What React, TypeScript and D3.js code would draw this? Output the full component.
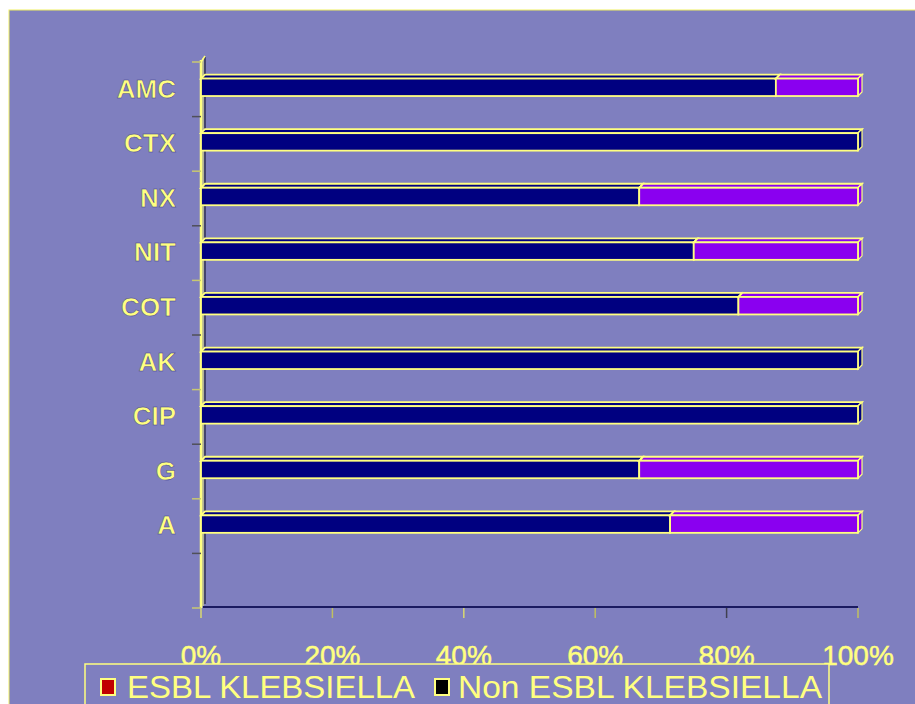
import * as d3 from 'd3';

// categories top to bottom (last slot of the axis is left empty)
const drugs = ['AMC', 'CTX', 'NX', 'NIT', 'COT', 'AK', 'CIP', 'G', 'A'];
const firstSeries = [87.5, 100, 66.7, 75, 81.8, 100, 100, 66.7, 71.4];
const secondSeries = [12.5, 0, 33.3, 25, 18.2, 0, 0, 33.3, 28.6];
const seriesNames = ['ESBL KLEBSIELLA', 'Non ESBL KLEBSIELLA'];
const xTicks = [0, 20, 40, 60, 80, 100];

const W = 915;
const H = 704;
const bg = '#7F7FBF';
const yellow = '#FFFF80';
const depth = 4;

export default function App() {
  const x = d3.scaleLinear().domain([0, 100]).range([201, 858]);
  const slots = [...drugs, ''];
  const y = d3.scaleBand<string>().domain(slots).range([62, 608]).paddingInner(0.68).paddingOuter(0.34);
  const step = y.step();
  const boundaries = d3.range(slots.length + 1).map((i) => 62 + i * step);

  const segColors = ['#000080', '#8A00F0'];

  const bars = drugs.map((d, i) => {
    const vals = [firstSeries[i], secondSeries[i]];
    let acc = 0;
    const y0 = (y(d) as number) - depth / 2;
    const h = y.bandwidth();
    return vals.map((v, k) => {
      const start = acc;
      acc += v;
      if (v <= 0) return null;
      const x0 = x(start);
      const x1 = x(acc);
      const top = `${x0},${y0} ${x0 + depth},${y0 - depth} ${x1 + depth},${y0 - depth} ${x1},${y0}`;
      const side = `${x1},${y0} ${x1 + depth},${y0 - depth} ${x1 + depth},${y0 + h - depth} ${x1},${y0 + h}`;
      return (
        <g key={`${d}-${k}`}>
          <polygon points={top} fill={segColors[k]} stroke={yellow} strokeWidth={1.8} />
          <polygon points={side} fill={segColors[k]} stroke={yellow} strokeWidth={1.2} />
          <rect x={x0} y={y0} width={x1 - x0} height={h} fill={segColors[k]} stroke={yellow} strokeWidth={1.8} />
        </g>
      );
    });
  });

  return (
    <svg width={W} height={H} style={{ position: 'absolute', left: 0, top: 0 }} fontFamily="Arial, 'Liberation Sans', sans-serif">
      <rect x={0} y={0} width={W} height={H} fill="#ffffff" />
      <rect x={9} y={10} width={W} height={H} fill={bg} stroke="#F0F060" strokeWidth={1} />

      {/* floor line */}
      <line x1={203} x2={x(100)} y1={607} y2={607} stroke="#1a1a60" strokeWidth={2} />
      {/* wall */}
      <line x1={201} x2={201} y1={60} y2={608} stroke={yellow} strokeWidth={2.5} />
      <line x1={205} x2={205} y1={57} y2={604} stroke="#303050" strokeWidth={1.5} />
      <line x1={203} x2={203} y1={58} y2={606} stroke="#E8E870" strokeWidth={1} />
      <line x1={201} x2={205} y1={62} y2={56} stroke={yellow} strokeWidth={1.5} />

      {/* y ticks */}
      {boundaries.map((b, i) => (
        <line key={i} x1={192} x2={201} y1={b} y2={b} stroke={i % 2 ? '#505058' : '#C8C870'} strokeWidth={1.5} />
      ))}
      {/* x ticks */}
      {xTicks.map((t, i) => (
        <line key={t} x1={x(t)} x2={x(t)} y1={608} y2={618} stroke={i % 2 ? '#C0C060' : i === 4 ? '#404050' : '#D8D870'} strokeWidth={1.5} />
      ))}

      {bars}

      {/* category labels */}
      {drugs.map((d) => (
        <text key={d} x={176} y={(y(d) as number) + y.bandwidth() / 2 - 1} dy="0.36em" textAnchor="end" fill={yellow} fontSize={26} fontWeight="bold" stroke="#3a3a90" strokeWidth={0.5}>
          {d}
        </text>
      ))}

      {/* x tick labels */}
      {xTicks.map((t) => (
        <text key={t} x={x(t)} y={665} textAnchor="middle" fill={yellow} fontSize={28} stroke={yellow} strokeWidth={0.5}>
          {`${t}%`}
        </text>
      ))}

      {/* legend */}
      <rect x={85} y={664} width={744} height={60} fill={bg} stroke={yellow} strokeWidth={1.5} />
      <rect x={101} y={679} width={14} height={16} fill="#C00000" stroke={yellow} strokeWidth={2} />
      <text x={127} y={698} fill={yellow} fontSize={31} textLength={288} lengthAdjust="spacingAndGlyphs">{seriesNames[0]}</text>
      <rect x={435} y={679} width={14} height={16} fill="#000000" stroke={yellow} strokeWidth={2} />
      <text x={458} y={698} fill={yellow} fontSize={31} textLength={364} lengthAdjust="spacingAndGlyphs">{seriesNames[1]}</text>
    </svg>
  );
}
